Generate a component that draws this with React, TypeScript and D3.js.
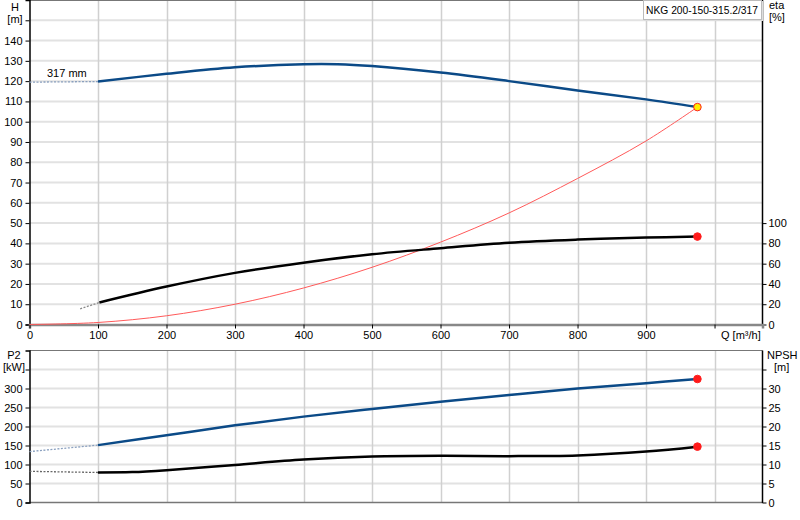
import { useEffect, useRef } from "react";
import * as d3 from "d3";

// Q axis (m³/h)
const qTicks = [0, 100, 200, 300, 400, 500, 600, 700, 800, 900];
const qGrid = [100, 200, 300, 400, 500, 600, 700, 800, 900, 1000];

// H curve, dashed part then solid part
const headDashed = [
	{ q: 0, v: 119.5 },
	{ q: 100, v: 119.8 },
];
const headSolid = [
	{ q: 100, v: 119.8 },
	{ q: 200, v: 123.6 },
	{ q: 300, v: 126.8 },
	{ q: 400, v: 128.3 },
	{ q: 450, v: 128.3 },
	{ q: 500, v: 127.4 },
	{ q: 600, v: 124.2 },
	{ q: 700, v: 120.0 },
	{ q: 800, v: 115.4 },
	{ q: 900, v: 111.0 },
	{ q: 975, v: 107.2 },
];

// system curve (thin red)
const systemCurve = [
	{ q: 0, v: 0 },
	{ q: 100, v: 1.0 },
	{ q: 200, v: 4.3 },
	{ q: 300, v: 10.0 },
	{ q: 400, v: 18.0 },
	{ q: 500, v: 28.2 },
	{ q: 600, v: 40.6 },
	{ q: 700, v: 55.0 },
	{ q: 800, v: 72.0 },
	{ q: 900, v: 90.5 },
	{ q: 975, v: 107.2 },
];

// efficiency (%)
const etaDashed = [
	{ q: 74, v: 15.5 },
	{ q: 102, v: 21.7 },
];
const etaSolid = [
	{ q: 102, v: 21.7 },
	{ q: 200, v: 37.4 },
	{ q: 300, v: 50.9 },
	{ q: 400, v: 61.0 },
	{ q: 500, v: 69.3 },
	{ q: 600, v: 75.2 },
	{ q: 700, v: 80.6 },
	{ q: 800, v: 83.7 },
	{ q: 900, v: 85.7 },
	{ q: 975, v: 86.7 },
];

// P2 (kW)
const powerDashed = [
	{ q: 0, v: 134 },
	{ q: 100, v: 151 },
];
const powerSolid = [
	{ q: 100, v: 151 },
	{ q: 200, v: 177 },
	{ q: 300, v: 203 },
	{ q: 400, v: 226 },
	{ q: 500, v: 246 },
	{ q: 600, v: 265 },
	{ q: 700, v: 283 },
	{ q: 800, v: 300 },
	{ q: 900, v: 314 },
	{ q: 975, v: 325 },
];

// NPSH (m)
const npshDashed = [
	{ q: 0, v: 8.2 },
	{ q: 100, v: 7.9 },
];
const npshSolid = [
	{ q: 100, v: 7.9 },
	{ q: 150, v: 8.0 },
	{ q: 200, v: 8.5 },
	{ q: 300, v: 9.9 },
	{ q: 400, v: 11.3 },
	{ q: 500, v: 12.1 },
	{ q: 600, v: 12.3 },
	{ q: 700, v: 12.2 },
	{ q: 800, v: 12.4 },
	{ q: 900, v: 13.4 },
	{ q: 975, v: 14.7 },
];

const headTicks = [0, 10, 20, 30, 40, 50, 60, 70, 80, 90, 100, 110, 120, 130, 140, 150];
const etaTicks = [0, 20, 40, 60, 80, 100];
const powerTicks = [0, 50, 100, 150, 200, 250, 300, 350];
const npshTicks = [0, 5, 10, 15, 20, 25, 30, 35];

const pumpName = "NKG 200-150-315.2/317";
const impeller = "317 mm";

type Pt = { q: number; v: number };

const FONT = "'Liberation Sans', Arial, sans-serif";
const BLUE = "#0b4a87";

const App = () => {
	const svgRef = useRef<SVGSVGElement>(null);

	useEffect(() => {
		if (!svgRef.current) return;
		const svg = d3.select(svgRef.current);
		svg.selectAll("*").remove();

		const left = 29.5;
		const right = 762.5;

		const x = d3.scaleLinear().domain([0, 1070]).range([left, right]);

		// top plot
		const yH = d3.scaleLinear().domain([0, 160]).range([324.5, 0]);
		const yEta = d3.scaleLinear().domain([0, 320]).range([324.5, 0]);
		// bottom plot
		const yP = d3.scaleLinear().domain([0, 400]).range([502.5, 350.5]);
		const yN = d3.scaleLinear().domain([0, 40]).range([502.5, 350.5]);

		const g = svg.append("g").style("font-family", FONT).style("font-size", "11px");

		// grids
		const drawGrid = (ys: d3.ScaleLinear<number, number>, ticks: number[], top: number, bottom: number) => {
			g.append("g")
				.selectAll("line")
				.data(ticks.filter((t) => t > 0))
				.join("line")
				.attr("x1", left)
				.attr("x2", right)
				.attr("y1", (d) => ys(d))
				.attr("y2", (d) => ys(d))
				.attr("stroke", "#e2e2e2")
				.attr("stroke-width", 2);
			g.append("g")
				.selectAll("line")
				.data(qGrid)
				.join("line")
				.attr("x1", (d) => Math.round(x(d)) + 0.5)
				.attr("x2", (d) => Math.round(x(d)) + 0.5)
				.attr("y1", top)
				.attr("y2", bottom)
				.attr("stroke", "#d0d0d0")
				.attr("stroke-width", 1.5);
		};
		drawGrid(yH, headTicks, 0, 324.5);
		drawGrid(yP, powerTicks, 350.5, 502.5);

		// frames
		g.append("line").attr("x1", left).attr("x2", right).attr("y1", 0.5).attr("y2", 0.5).attr("stroke", "#777");
		g.append("line").attr("x1", left).attr("x2", right).attr("y1", 350.5).attr("y2", 350.5).attr("stroke", "#777");
		g.append("line").attr("x1", left).attr("x2", right).attr("y1", 502.5).attr("y2", 502.5).attr("stroke", "#777").attr("stroke-width", 1.5);

		// left axes
		const leftAxis = (ys: d3.ScaleLinear<number, number>, ticks: number[], labeled: number[]) => {
			const ax = g
				.append("g")
				.attr("transform", `translate(${left},0)`)
				.call(
					d3
						.axisLeft(ys)
						.tickValues(ticks)
						.tickSize(4)
						.tickPadding(3)
						.tickFormat((d) => (labeled.includes(d as number) ? String(d) : ""))
				);
			ax.select(".domain").attr("stroke", "#000").attr("stroke-width", 1.5);
			ax.selectAll("text").attr("fill", "#000").style("font-family", FONT).style("font-size", "11px");
		};
		leftAxis(yH, headTicks, headTicks.filter((t) => t <= 140));
		leftAxis(yP, powerTicks, powerTicks.filter((t) => t <= 300));

		// right axes
		const rightAxis = (ys: d3.ScaleLinear<number, number>, ticks: number[], labeled: number[]) => {
			const ax = g
				.append("g")
				.attr("transform", `translate(${right},0)`)
				.call(
					d3
						.axisRight(ys)
						.tickValues(ticks)
						.tickSize(4)
						.tickPadding(2)
						.tickFormat((d) => (labeled.includes(d as number) ? String(d) : ""))
				);
			ax.select(".domain").remove();
			ax.selectAll("text").attr("fill", "#000").style("font-family", FONT).style("font-size", "11px");
		};
		rightAxis(yEta, etaTicks, etaTicks);
		rightAxis(yN, npshTicks, npshTicks.filter((t) => t <= 30));
		g.append("line").attr("x1", right).attr("x2", right).attr("y1", 0).attr("y2", 324.5).attr("stroke", "#000").attr("stroke-width", 1.5);
		g.append("line").attr("x1", right).attr("x2", right).attr("y1", 350.5).attr("y2", 503).attr("stroke", "#000").attr("stroke-width", 1.5);

		// Q axis of the top plot
		const qAx = g
			.append("g")
			.attr("transform", "translate(0,324.5)")
			.call(d3.axisBottom(x).tickValues([...qTicks, 1000]).tickSize(4).tickPadding(3).tickFormat((d) => (d === 1000 ? "" : String(d))));
		qAx.select(".domain").attr("stroke", "#888").attr("stroke-width", 2.5);
		qAx.selectAll("text").attr("fill", "#000").style("font-family", FONT).style("font-size", "11px");

		// unit labels
		const label = (tx: string, px: number, py: number, anchor = "middle") =>
			g.append("text").attr("x", px).attr("y", py).attr("text-anchor", anchor).attr("fill", "#000").text(tx);
		label("H", 15, 11);
		label("[m]", 15, 23);
		label("eta", 769, 9, "start");
		label("[%]", 769, 21, "start");
		label("P2", 14, 359);
		label("[kW]", 14, 371);
		label("NPSH", 767, 359, "start");
		label("[m]", 774, 371, "start");
		label("Q [m³/h]", 721, 339, "start");
		label(impeller, 47, 77, "start");

		// legend box
		g.append("rect")
			.attr("x", 643.5)
			.attr("y", 0.5)
			.attr("width", 118)
			.attr("height", 19)
			.attr("fill", "#fff")
			.attr("stroke", "#bbb")
			.style("filter", "drop-shadow(1px 1px 0px #ddd)");
		label(pumpName, 646, 14, "start").attr("textLength", 112).attr("lengthAdjust", "spacingAndGlyphs");

		// curves
		const mk = (ys: d3.ScaleLinear<number, number>) =>
			d3
				.line<Pt>()
				.x((d) => x(d.q))
				.y((d) => ys(d.v))
				.curve(d3.curveCatmullRom.alpha(0.5));

		const path = (
			data: Pt[],
			ys: d3.ScaleLinear<number, number>,
			color: string,
			width: number,
			dash?: string
		) => {
			const p = g
				.append("path")
				.datum(data)
				.attr("d", mk(ys))
				.attr("fill", "none")
				.attr("stroke", color)
				.attr("stroke-width", width);
			if (dash) p.attr("stroke-dasharray", dash);
		};

		path(systemCurve, yH, "#ff5a5a", 1);
		path(headDashed, yH, "#8aa0bf", 1.3, "2,1.5");
		path(headSolid, yH, BLUE, 2.5);
		path(etaDashed, yEta, "#888", 1.3, "2,1.5");
		path(etaSolid, yEta, "#000", 2.5);
		path(powerDashed, yP, "#8aa0bf", 1.3, "2,1.5");
		path(powerSolid, yP, BLUE, 2.5);
		path(npshDashed, yN, "#666", 1.3, "2,1.5");
		path(npshSolid, yN, "#000", 2.5);

		// end points
		const dot = (d: Pt, ys: d3.ScaleLinear<number, number>, fill: string) =>
			g.append("circle").attr("cx", x(d.q)).attr("cy", ys(d.v)).attr("r", 3.8).attr("fill", fill).attr("stroke", "#ff2020").attr("stroke-width", 1);
		dot(etaSolid[etaSolid.length - 1], yEta, "#ff1a1a");
		dot(headSolid[headSolid.length - 1], yH, "#ffee00");
		dot(powerSolid[powerSolid.length - 1], yP, "#ff1a1a");
		dot(npshSolid[npshSolid.length - 1], yN, "#ff1a1a");
	}, []);

	return (
		<svg
			ref={svgRef}
			width={800}
			height={520}
			style={{ position: "absolute", left: 0, top: 0, background: "#fff" }}
		></svg>
	);
};

export default App;
